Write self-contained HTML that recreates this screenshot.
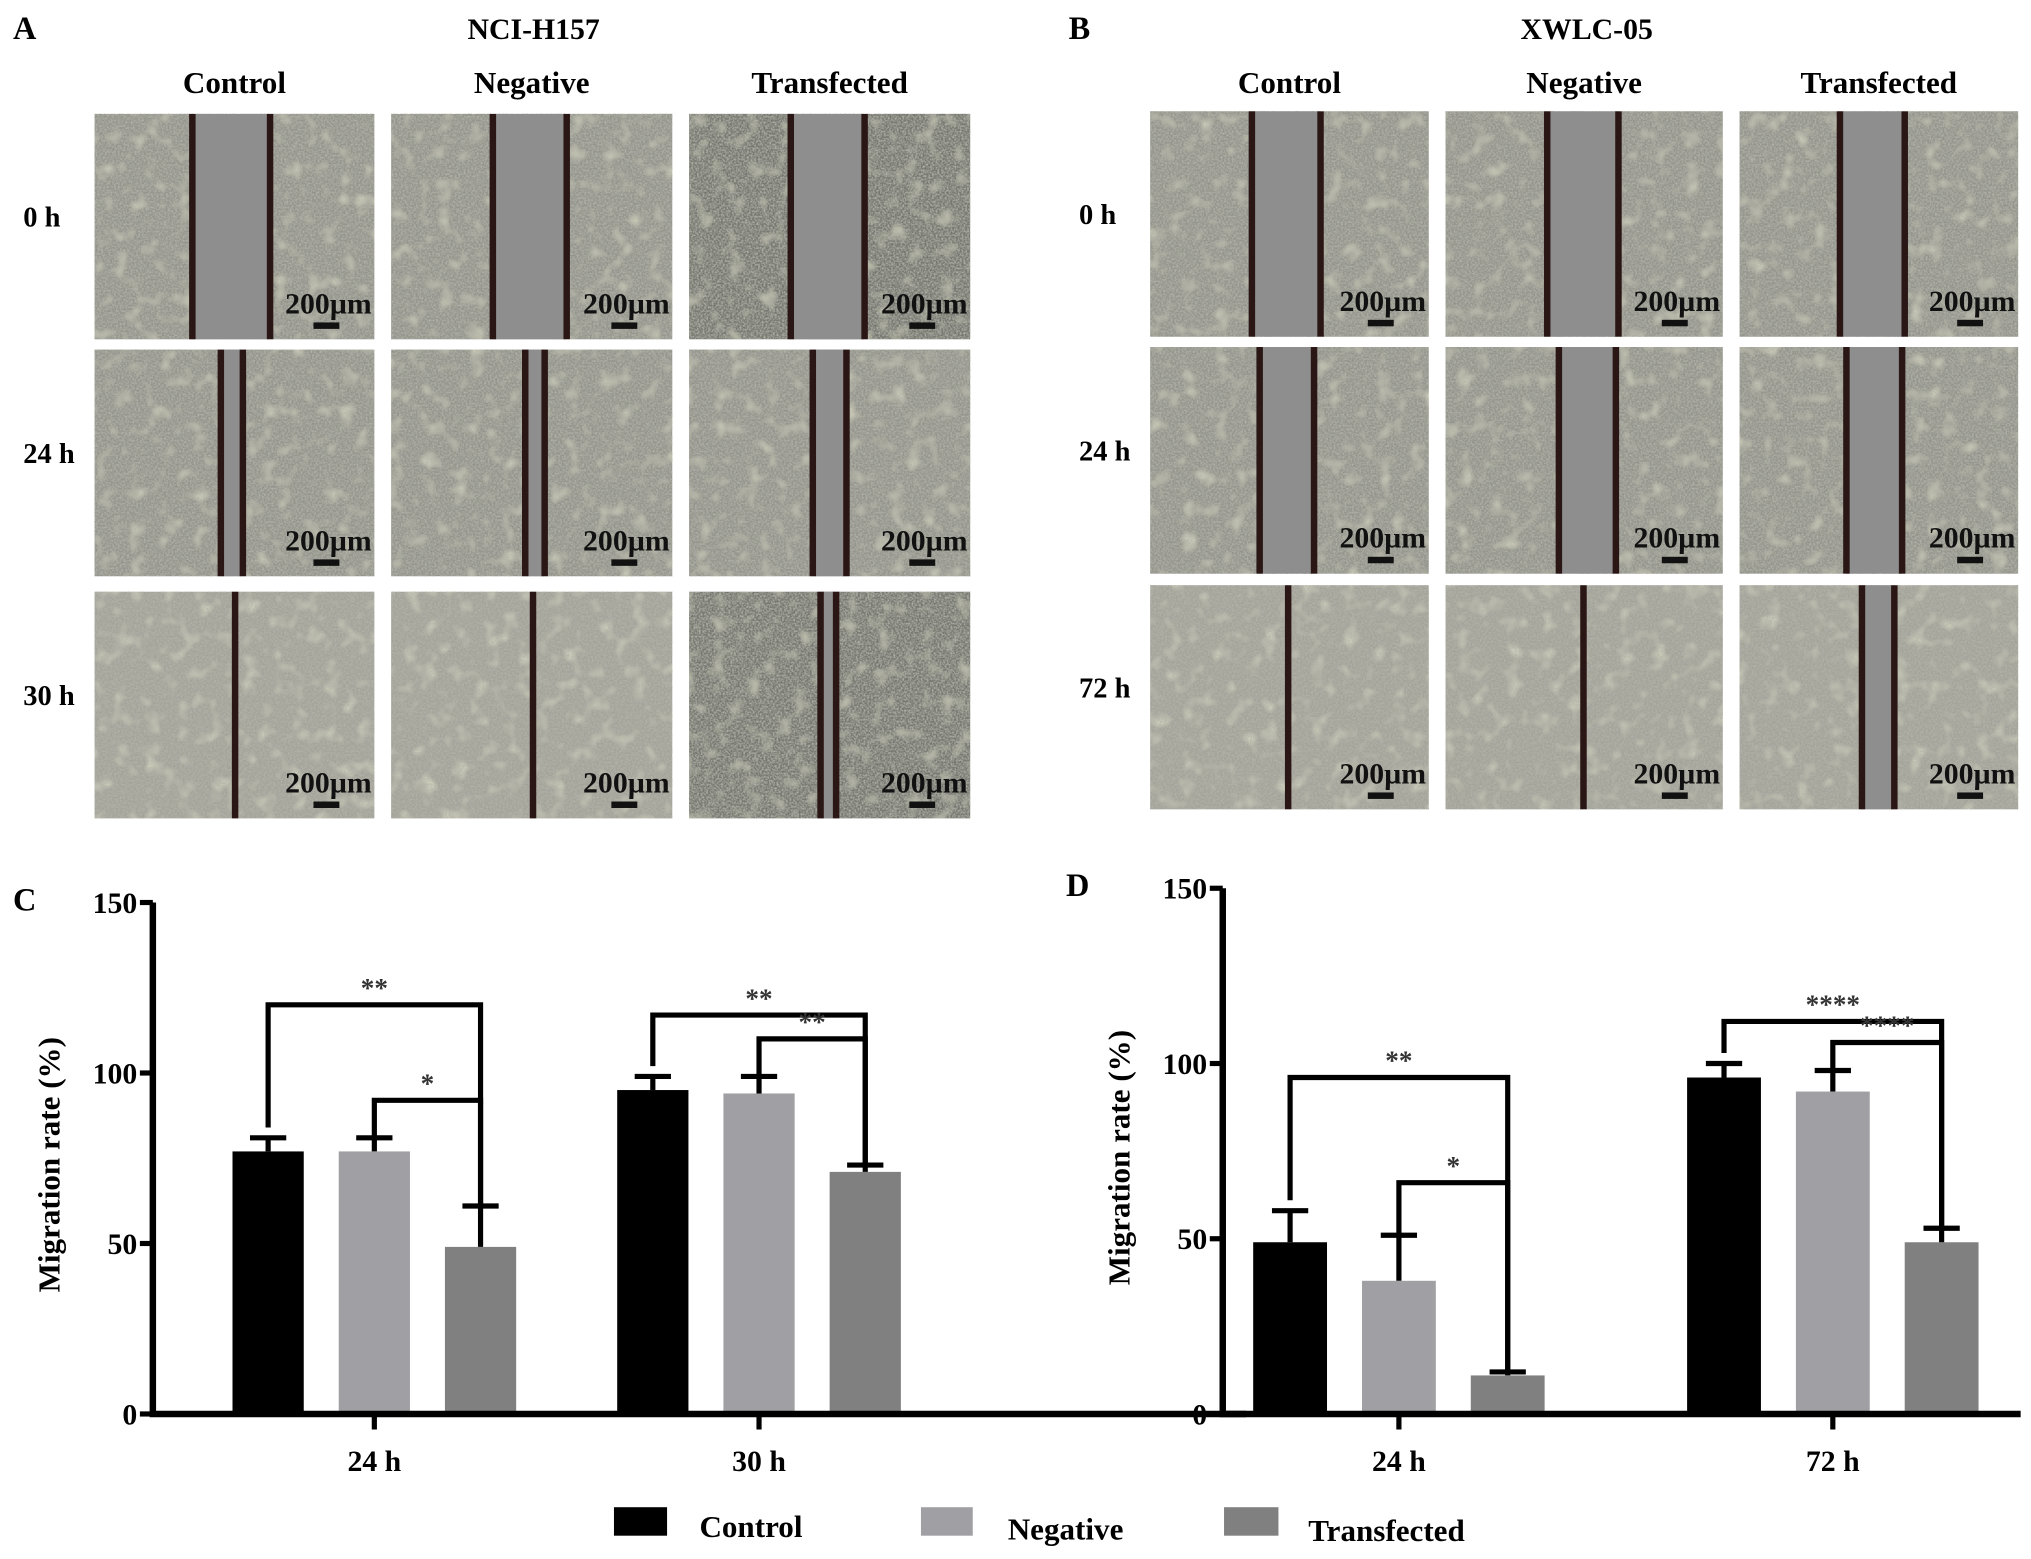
<!DOCTYPE html>
<html><head><meta charset="utf-8"><style>
html,body{margin:0;padding:0;background:#fff;}
svg{display:block;font-family:"Liberation Serif",serif;font-weight:bold;}
</style></head><body>
<svg id="fig" width="2031" height="1559" viewBox="0 0 1568 1204" preserveAspectRatio="none">
<defs>
<filter id="tex" x="0" y="0" width="100%" height="100%">
<feTurbulence type="fractalNoise" baseFrequency="0.7" numOctaves="2" seed="3"/>
<feColorMatrix type="matrix" values="0 0 0 0 0.45  0 0 0 0 0.45  0 0 0 0 0.4  0 0 0 -2.2 1.5"/>
</filter>
<filter id="tex2" x="0" y="0" width="100%" height="100%">
<feTurbulence type="fractalNoise" baseFrequency="0.08" numOctaves="2" seed="7"/>
<feColorMatrix type="matrix" values="0 0 0 0 0.85  0 0 0 0 0.85  0 0 0 0 0.65  0 0 0 -3 1.4"/>
</filter>
</defs>
<g id="micro"></g>
<g id="chartC"></g>
<g id="chartD"></g>
<g id="legend">
<rect x="474" y="1164" width="41" height="22" fill="#000"/>
<text x="540" y="1187" font-size="24">Control</text>
<rect x="711" y="1164" width="40" height="22" fill="#a0a0a4"/>
<text x="778" y="1189" font-size="24">Negative</text>
<rect x="945" y="1164" width="42" height="22" fill="#808080"/>
<text x="1010" y="1190" font-size="24">Transfected</text>
</g>
</svg>
<script>
const NS="http://www.w3.org/2000/svg";
function mk(tag,attrs,parent,txt){const e=document.createElementNS(NS,tag);for(const k in attrs)e.setAttribute(k,attrs[k]);if(txt!==undefined)e.textContent=txt;parent.appendChild(e);return e;}

const micro=document.getElementById('micro');
const panels=[
 {label:'A',lx:10,title:'NCI-H157',tx:412,cols:[[73,289],[302,519],[532,749]],rows:[[88,262],[270,445],[457,632]],times:['0 h','24 h','30 h'],
  gaps:[[[148,208],[380,437],[610,667]],[[170,187],[405,420],[627,653]],[[181],[411],[633,645]]]},
 {label:'B',lx:825,title:'XWLC-05',tx:1225,cols:[[888,1103],[1116,1330],[1343,1558]],rows:[[86,260],[268,443],[452,625]],times:['0 h','24 h','72 h'],
  gaps:[[[966,1019],[1194,1249],[1420,1470]],[[972,1014],[1203,1247],[1425,1468]],[[994],[1222],[1437,1462]]]}
];
const colNames=['Control','Negative','Transfected'];
panels.forEach((p,pi)=>{
  let t=mk('text',{x:p.lx,y:30,'font-size':25},micro,p.label);
  
  
  t=mk('text',{x:p.tx,y:30,'font-size':23,'text-anchor':'middle'},micro,p.title);
  
  
  p.cols.forEach((c,ci)=>{
    const h=mk('text',{x:(c[0]+c[1])/2,y:72,'font-size':24,'text-anchor':'middle'},micro,colNames[ci]);
    
    
  });
  p.rows.forEach((r,ri)=>{
    const tl=mk('text',{x:p.lx+8,y:(r[0]+r[1])/2,'font-size':22},micro,p.times[ri]);
    
    
    p.cols.forEach((c,ci)=>{
      const g=mk('g',{},micro);
      
      
      const w=c[1]-c[0],h=r[1]-r[0];
      const base=(ci===2&&ri!==1&&pi===0)?'#75776f':(ri===2?'#a3a39a':'#93948b');
      mk('rect',{x:c[0],y:r[0],width:w,height:h,fill:base},g);
      mk('rect',{x:c[0],y:r[0],width:w,height:h,filter:'url(#tex2)',opacity:0.6},g);
      mk('rect',{x:c[0],y:r[0],width:w,height:h,filter:'url(#tex)',opacity:0.9},g);
      const gp=p.gaps[ri][ci];
      if(gp.length===2){
        mk('rect',{x:gp[0],y:r[0],width:gp[1]-gp[0],height:h,fill:'#8e8e8e'},g);
        mk('rect',{x:gp[0]-2,y:r[0],width:5,height:h,fill:'#2a1614'},g);
        mk('rect',{x:gp[1]-2,y:r[0],width:5,height:h,fill:'#2a1614'},g);
      } else {
        mk('rect',{x:gp[0]-2,y:r[0],width:5,height:h,fill:'#2a1614'},g);
      }
      mk('text',{x:c[1]-2,y:r[1]-20,'font-size':23,'text-anchor':'end',fill:'#111'},g,'200µm');
      mk('rect',{x:c[1]-47,y:r[1]-13,width:20,height:5,fill:'#111'},g);
    });
  });
});

const seriesNames=['Control','Negative','Transfected'];
const seriesColors=['#000000','#a0a0a4','#808080'];
const yTicks=[0,50,100,150];
const catsC=['24 h','30 h'];
const meanC=[[77,77,49],[95,94,71]];
const errC=[[4,4,12],[4,5,2]];
const catsD=['24 h','72 h'];
const meanD=[[49,38,11],[96,92,49]];
const errD=[[9,13,1],[4,6,4]];
const sigC=[[0,2,'**',120],[1,2,'*',92],[0,2,'**',117],[1,2,'**',110]];
const sigD=[[0,2,'**',96],[1,2,'*',66],[0,2,'****',112],[1,2,'****',106]];

function drawChart(gid,cfg){
  const g=document.getElementById(gid);
  const y=v=>cfg.y0-(v/150)*(cfg.y0-cfg.y150);
  const barX=(ci,si)=>cfg.groupX[ci]+(si-1)*cfg.step;
  let e=mk('text',{x:cfg.labelX,y:cfg.y150+6,'font-size':25},g,cfg.label);
  
  
  cfg.cats.forEach((cat,ci)=>{
    cfg.mean[ci].forEach((v,si)=>{
      const cx=barX(ci,si);
      const b=mk('rect',{x:cx-cfg.bw/2,y:y(v),width:cfg.bw,height:y(0)-y(v),fill:seriesColors[si]},g);
      
      
      const top=y(v+cfg.err[ci][si]);
      const eb=mk('path',{d:`M${cx},${y(v)}V${top}M${cx-14},${top}H${cx+14}`,stroke:'#000','stroke-width':4,fill:'none'},g);
      
      
    });
    const tk=mk('path',{d:`M${cfg.groupX[ci]},${cfg.y0}V${cfg.y0+12}`,stroke:'#000','stroke-width':4},g);
    
    
    const tl=mk('text',{x:cfg.groupX[ci],y:cfg.y0+44,'font-size':23,'text-anchor':'middle'},g,cat);
    
    
  });
  cfg.sig.forEach((s,k)=>{
    const ci=k<2?0:1;
    const x1=barX(ci,s[0]),x2=barX(ci,s[1]);
    const by=y(s[3]);
    const l1=y(cfg.mean[ci][s[0]]+cfg.err[ci][s[0]]+(s[0]===0?3:0));
    const l2=y(cfg.mean[ci][s[1]]+cfg.err[ci][s[1]]);
    const p=mk('path',{d:`M${x1},${l1}V${by}H${x2}V${l2}`,stroke:'#000','stroke-width':4,fill:'none'},g);
    
    
    const t=mk('text',{x:(x1+x2)/2,y:by-6,'font-size':21,'text-anchor':'middle',fill:'#333'},g,s[2]);
    
    
  });
  const ax=mk('path',{d:`M${cfg.x0},${cfg.y150}V${cfg.y0}H${cfg.xEnd}`,stroke:'#000','stroke-width':5,fill:'none'},g);
  
  
  yTicks.forEach(v=>{
    const t=mk('path',{d:`M${cfg.x0-10},${y(v)}H${cfg.x0}`,stroke:'#000','stroke-width':4},g);
    
    
    const l=mk('text',{x:cfg.x0-12,y:y(v)+8,'font-size':23,'text-anchor':'end'},g,String(v));
    
    
  });
  const yt=mk('text',{x:0,y:0,'font-size':24,'text-anchor':'middle',transform:`translate(${cfg.x0-72},${(cfg.y0+cfg.y150)/2+5}) rotate(-90)`},g,'Migration rate (%)');
  
  
}
drawChart('chartC',{label:'C',labelX:10,x0:118,xEnd:962,y0:1092,y150:697,groupX:[289,586],step:82,bw:55,cats:catsC,mean:meanC,err:errC,sig:sigC});
drawChart('chartD',{label:'D',labelX:823,x0:944,xEnd:1560,y0:1092,y150:686,groupX:[1080,1415],step:84,bw:57,cats:catsD,mean:meanD,err:errD,sig:sigD});
</script>
</body></html>
